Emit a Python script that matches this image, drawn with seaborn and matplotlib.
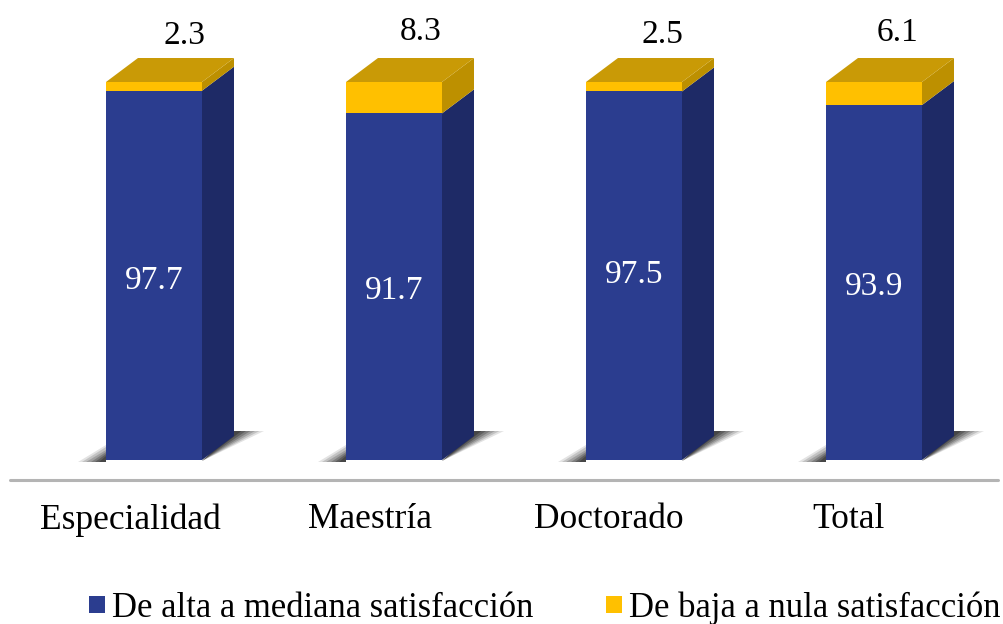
import matplotlib
matplotlib.use("Agg")
import matplotlib.pyplot as plt
from matplotlib.patches import Polygon, Patch
from matplotlib.lines import Line2D
import pandas as pd
import seaborn as sns

categories = ["Especialidad", "Maestría", "Doctorado", "Total"]
alta = [97.7, 91.7, 97.5, 93.9]
baja = [2.3, 8.3, 2.5, 6.1]
alta_labels = ["97.7", "91.7", "97.5", "93.9"]
baja_labels = ["2.3", "8.3", "2.5", "6.1"]
serie_alta = "De alta a mediana satisfacción"
serie_baja = "De baja a nula satisfacción"

BLUE = "#2b3d8f"
BLUE_SIDE = "#1e2a66"
YELLOW = "#ffc000"
YELLOW_TOP = "#c99a06"
YELLOW_SIDE = "#bd9000"

sns.set_theme(style="white")
plt.rcParams["font.family"] = ["Liberation Serif", "DejaVu Serif"]

fig = plt.figure(figsize=(10.04, 6.24), dpi=100)
ax = fig.add_axes([0, 0, 1, 1])

df = pd.DataFrame({"cat": categories, "alta": alta, "baja": baja})
df["total"] = df["alta"] + df["baja"]

# stacked bars: full height in yellow, blue on top of it
sns.barplot(data=df, x="cat", y="total", color=YELLOW, saturation=1, width=0.4, linewidth=0, ax=ax, zorder=3)
sns.barplot(data=df, x="cat", y="alta", color=BLUE, saturation=1, width=0.4, linewidth=0, ax=ax, zorder=4)

ax.set_xlim(-154 / 240, 850 / 240)
ax.set_ylim(-164 / 3.78, 460 / 3.78)
ax.axis("off")


# pixel offsets to data units
def ux(px):
    return px / 240


def uy(px):
    return px / 3.78


dx = ux(32)
dy = uy(24)

for i in range(len(categories)):
    x0 = i - 0.2
    x1 = i + 0.2
    a = alta[i]
    top = alta[i] + baja[i]

    # soft shadow, layers get shorter and darker towards the bar
    for grow, alpha in [(1.0, 0.12), (0.85, 0.16), (0.7, 0.2), (0.55, 0.25), (0.4, 0.3), (0.25, 0.35)]:
        ax.add_patch(Polygon([(x1, uy(-1)), (x1 + dx + ux(30) * grow, uy(29)), (x1 + dx, uy(29))],
                             closed=True, fc="#1a1a1a", ec="none", alpha=alpha, zorder=1))
        ax.add_patch(Polygon([(x0 - ux(28) * grow, uy(-2)), (x0, uy(-2)), (x0, uy(15) * grow)],
                             closed=True, fc="#1a1a1a", ec="none", alpha=alpha, zorder=1))

    # right side
    ax.add_patch(Polygon([(x1, 0), (x1 + dx, dy), (x1 + dx, a + dy), (x1, a)],
                         closed=True, fc=BLUE_SIDE, ec="none", zorder=2))
    ax.add_patch(Polygon([(x1, a), (x1 + dx, a + dy), (x1 + dx, top + dy), (x1, top)],
                         closed=True, fc=YELLOW_SIDE, ec="none", zorder=2))
    # top
    ax.add_patch(Polygon([(x0, top), (x1, top), (x1 + dx, top + dy), (x0 + dx, top + dy)],
                         closed=True, fc=YELLOW_TOP, ec="none", zorder=5))

# baseline
ax.add_line(Line2D([ux(-144), ux(844)], [uy(-20), uy(-20)], color="#b4b4b4", lw=2.2, zorder=1))

# value labels
alta_y = [uy(179), uy(169), uy(185), uy(173)]
baja_x = [ux(30), ux(27), ux(28), ux(24)]
baja_y = [uy(424), uy(428), uy(425), uy(427)]
for i in range(len(categories)):
    ax.text(i, alta_y[i], alta_labels[i], color="white", fontsize=24, ha="center", va="center", zorder=6)
    ax.text(i + baja_x[i], baja_y[i], baja_labels[i], color="black", fontsize=24, ha="center", va="center", zorder=6)

# category labels
cat_x = [ux(-24), ux(-24), ux(-25), ux(-25)]
for i in range(len(categories)):
    ax.text(i + cat_x[i], uy(-60), categories[i], color="black", fontsize=25.5, ha="center", va="center")

handles = [Patch(fc=BLUE, ec="none"), Patch(fc=YELLOW, ec="none")]
ax.legend(handles, [serie_alta, serie_baja], ncol=2, frameon=False, fontsize=24.9,
          loc="lower left", bbox_to_anchor=(89 / 1004, -1 / 624), borderpad=0, borderaxespad=0,
          handlelength=0.45, handleheight=0.4, handletextpad=0.22, columnspacing=2.1,
          labelcolor="black")

fig.savefig("out.png", dpi=100, facecolor="white")
